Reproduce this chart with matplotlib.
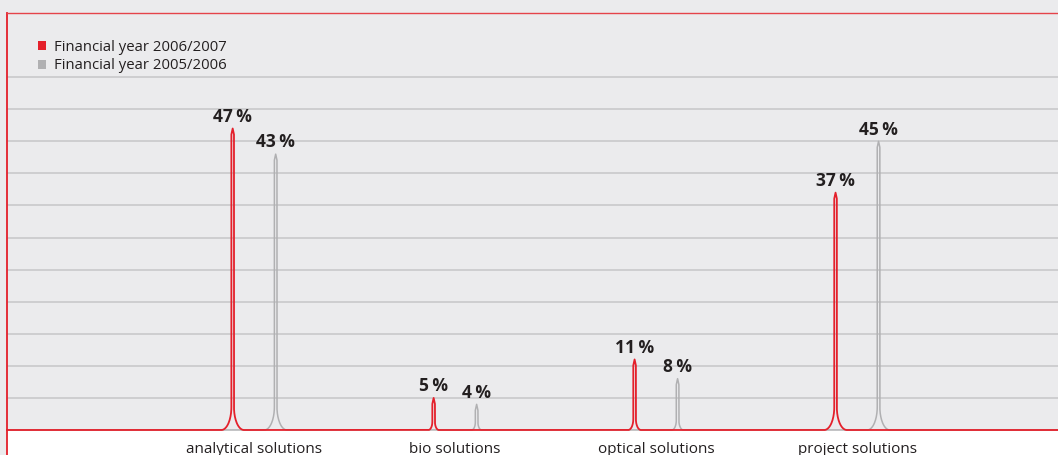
import numpy as np
import matplotlib.pyplot as plt
from matplotlib.patches import Patch, Rectangle
from matplotlib.lines import Line2D

plt.rcParams['font.family'] = ['Open Sans', 'DejaVu Sans']

# Data
categories = ["analytical solutions", "bio solutions", "optical solutions", "project solutions"]
fy_2007 = [47, 5, 11, 37]
fy_2006 = [43, 4, 8, 45]
series_labels = ["Financial year 2006/2007", "Financial year 2005/2006"]

RED = "#e4202b"
GREY = "#b0b0b2"
BG = "#ebebed"
TEXT = "#231f20"

W, H = 1058, 455
left_px, base_px, top_px = 7, 430, 13
XMIN, XMAX = -1.23, 4.0
YMAX = 65

fig = plt.figure(figsize=(W / 100, H / 100), dpi=100, facecolor=BG)
ax = fig.add_axes([left_px / W, (H - base_px) / H, 1 - left_px / W, (base_px - top_px) / H])
ax.set_facecolor(BG)
ax.set_xlim(XMIN, XMAX)
ax.set_ylim(0, YMAX)

# pixel -> data scale
sx = (W - left_px) / (XMAX - XMIN)
sy = (base_px - top_px) / YMAX


def spike_curve(xs, hs):
    """baseline with a thin peak (filleted base) at every x"""
    px, py = [XMIN], [0.0]
    for xc, h in sorted(zip(xs, hs)):
        hpx = h * sy
        rx = min(10, 3 + 0.03 * hpx) / sx
        ry = min(23, 6 + 0.07 * hpx) / sy
        d = 1.3 / sx
        tip = 6 / sy
        t = np.linspace(-np.pi / 2, 0, 30)
        cx = xc - d - rx
        px += list(cx + rx * np.cos(t)); py += list(ry + ry * np.sin(t))
        px += [xc - d, xc, xc + d]; py += [h - tip, h, h - tip]
        t = np.linspace(np.pi, 1.5 * np.pi, 30)
        cx = xc + d + rx
        px += list(cx + rx * np.cos(t)); py += list(ry + ry * np.sin(t))
    px.append(XMAX); py.append(0.0)
    return px, py


pos = np.arange(len(categories))
off = 21.5 / sx

gx, gy = spike_curve(pos + off, fy_2006)
ax.plot(gx, gy, color=GREY, lw=1.1, zorder=3, clip_on=False)
rx_, ry_ = spike_curve(pos - off, fy_2007)
ax.plot(rx_, ry_, color=RED, lw=1.3, zorder=4, clip_on=False)

for x, v in zip(pos - off, fy_2007):
    ax.annotate(f"{v}\u2009%", xy=(x, v), xytext=(0, 2), textcoords="offset points",
                ha="center", va="bottom", fontsize=12.5, fontweight="bold", color=TEXT)
for x, v in zip(pos + off, fy_2006):
    ax.annotate(f"{v}\u2009%", xy=(x, v), xytext=(0, 2), textcoords="offset points",
                ha="center", va="bottom", fontsize=12.5, fontweight="bold", color=TEXT)

# grid
ax.set_yticks(np.arange(5, 60, 5))
ax.yaxis.grid(True, color="#c6c6c8", lw=1.1)
ax.set_axisbelow(True)
ax.tick_params(axis="y", length=0, labelleft=False)
ax.set_xticks(pos)
ax.set_xticklabels(categories, fontsize=11, color=TEXT)
ax.tick_params(axis="x", length=0, pad=8.5)

for s in ["right", "bottom"]:
    ax.spines[s].set_visible(False)
ax.spines["top"].set_color("#e5434a")
ax.spines["top"].set_linewidth(1.0)
ax.spines["left"].set_color(RED)
ax.spines["left"].set_linewidth(1.3)

# white band below baseline and red left rule running to the bottom
fig.patches.append(Rectangle((left_px / W, 0), 1, (H - base_px) / H, transform=fig.transFigure,
                             facecolor="white", edgecolor="none", zorder=-1))
fig.add_artist(Line2D([left_px / W] * 2, [0, (H - base_px) / H], transform=fig.transFigure,
                      color=RED, lw=1.3))

handles = [Patch(facecolor=RED, edgecolor="none"), Patch(facecolor=GREY, edgecolor="none")]
ax.legend(handles, series_labels, loc="upper left", bbox_to_anchor=(0.0295, 0.935),
          frameon=False, fontsize=10.7, handlelength=0.55, handleheight=0.55,
          handletextpad=0.5, labelspacing=0.22, borderaxespad=0, borderpad=0,
          labelcolor=TEXT)

fig.savefig("out.png", dpi=100, facecolor=BG)
